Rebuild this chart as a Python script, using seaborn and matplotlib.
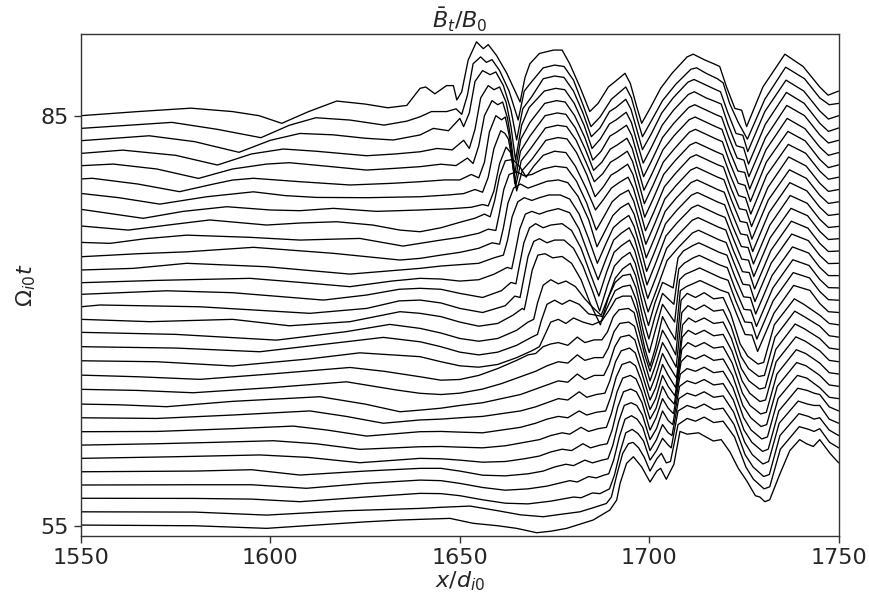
import numpy as np
import pandas as pd
import matplotlib
matplotlib.use("Agg")
import matplotlib.pyplot as plt
import seaborn as sns

# Stacked field profiles: each row is (x / d_i0, offset above the row's time level)
b85 = [(1550, 0.0), (1565, 0.3), (1579, 0.55), (1590, 0.3), (1597, 0.0), (1603, -0.56), (1610, 0.29),
       (1617.5, 1.07), (1625, 0.85), (1631, 0.58), (1636, 0.75), (1639.5, 2.0), (1641, 2.1), (1643.4, 1.6),
       (1646.5, 2.2), (1648.3, 2.2), (1649.2, 1.15), (1650.5, 1.75), (1652.2, 4.07), (1654.4, 5.4),
       (1656.2, 4.9), (1657.5, 5.2), (1659.7, 4.4), (1662.4, 3.1), (1665.9, 1.0), (1667.2, 2.8), (1668.5, 3.8),
       (1671, 4.55), (1674.7, 4.8), (1677, 4.8), (1679, 3.8), (1681.7, 2.1), (1684.3, 0.3), (1686.5, 0.9),
       (1689.2, 2.1), (1691, 2.5), (1693.6, 3.1), (1695, 2.36), (1696.7, 0.65), (1698, -0.56),
       (1700.2, 0.53), (1703, 2.0), (1706, 3.1), (1710, 4.3), (1711.6, 4.5), (1714.7, 4.07), (1717, 3.8),
       (1718.6, 3.6), (1720.4, 2.1), (1722.6, 0.53), (1724.4, 0.4), (1725.7, -0.8), (1730, 2.1),
       (1735.8, 4.5), (1740.6, 3.6), (1745, 2.1), (1747.2, 1.5), (1750, 1.8)]
b84 = [(1550, 0.07), (1574, 0.51), (1586, 0.0), (1597.5, -0.61), (1605, 0.3), (1612, 0.85), (1621, 0.68),
       (1630, 0.31), (1636, 0.6), (1639.5, 0.92), (1642.5, 1.3), (1646.5, 1.3), (1649, 1.5), (1650.5, 1.1),
       (1652, 2.5), (1653.5, 4.8), (1655.5, 5.3), (1657, 4.9), (1658.5, 5.1), (1660.5, 4.3), (1663, 2.8),
       (1665.4, 0.68), (1667, 2.8), (1669, 3.5), (1672, 4.5), (1675, 4.7), (1677.5, 4.6), (1680, 3.6), (1682.5, 1.8),
       (1684.6, 0.2), (1687, 0.9), (1690, 2.2), (1693.8, 3.1), (1695.3, 2.3), (1697, 0.6), (1698.2, -0.54),
       (1700.5, 0.6), (1703.5, 2.1), (1707, 3.3), (1711, 4.4), (1712.5, 4.5), (1715, 4.1), (1718, 3.7),
       (1719.5, 3.4), (1721.2, 1.9), (1723.5, 0.5), (1725.9, -0.72), (1730.5, 2.2), (1736, 4.55),
       (1741, 3.7), (1745, 2.3), (1747.5, 1.8), (1750, 1.9)]
b83 = [(1550, 0.17), (1568, 0.53), (1580, 0.1), (1591.7, -0.68), (1600, 0.2), (1607.8, 0.7), (1616.5, 0.6),
       (1625, 0.35), (1632.4, 0.22), (1639.5, 0.59), (1643, 1.07), (1647, 0.9), (1650, 1.8), (1651, 1.2),
       (1652.5, 2.2), (1654, 4.5), (1656, 5.3), (1658, 5.0), (1659.5, 5.2), (1661.5, 4.2), (1663.5, 2.4),
       (1665.0, 0.22), (1666.6, 2.5), (1669, 3.4), (1672, 4.7), (1675, 4.9), (1677.5, 4.8), (1680, 3.8), (1682.5, 2.2),
       (1684.7, 0.46), (1687, 1.1), (1689.5, 2.3), (1691.2, 2.6), (1693.8, 3.2), (1695.2, 2.45), (1697, 0.7),
       (1698.2, -0.48), (1700.5, 0.65), (1703.3, 2.2), (1706.3, 3.3), (1710.2, 4.45), (1711.8, 4.65),
       (1714.9, 4.25), (1717.2, 3.95), (1718.8, 3.75), (1720.7, 2.25), (1722.9, 0.7), (1724.7, 0.57),
       (1726, -0.63), (1730.5, 2.3), (1736.1, 4.6), (1740.8, 3.8), (1745, 2.35), (1747.3, 1.75), (1750, 2.0)]
b82 = [(1550, 0.24), (1561, 0.48), (1575, 0.1), (1586, -0.61), (1595, 0.2), (1603.4, 0.56), (1612, 0.4),
       (1625.4, 0.07), (1633, 0.2), (1639.5, 0.36), (1644, 0.6), (1648, 0.5), (1651, 1.2), (1652.5, 0.6),
       (1654, 2.0), (1655.5, 4.3), (1657.5, 5.2), (1659, 4.9), (1660.5, 5.1), (1662.2, 4.0), (1663.5, 2.2),
       (1664.7, -0.25), (1666.3, 2.3), (1668.3, 3.6), (1672.3, 4.8), (1675.3, 5.0), (1677.7, 4.9), (1680.2, 3.9),
       (1682.8, 2.3), (1684.9, 0.6), (1687.1, 1.3), (1689.5, 2.4), (1691.3, 2.7), (1693.9, 3.25),
       (1695.3, 2.5), (1697.1, 0.75), (1698.4, -0.47), (1700.6, 0.7), (1703.4, 2.3), (1706.4, 3.4),
       (1710.3, 4.55), (1711.9, 4.75), (1715, 4.3), (1717.3, 4.05), (1719, 3.85), (1720.8, 2.35), (1723, 0.8),
       (1724.9, 0.65), (1726.2, -0.54), (1730.6, 2.35), (1736.2, 4.7), (1740.9, 3.9), (1745, 2.45),
       (1747.3, 1.85), (1750, 2.1)]
b81 = [(1550, 0.34), (1558.5, 0.46), (1570, 0.1), (1581, -0.59), (1590, 0.1), (1599, 0.46), (1605, 0.56),
       (1615, 0.3), (1625.4, 0.02), (1633, 0.15), (1639.5, 0.27), (1645, 0.45), (1649, 0.35), (1652, 0.9),
       (1653.5, 0.5), (1655, 1.8), (1656.5, 4.0), (1658.5, 5.1), (1660, 4.8), (1661.3, 5.0), (1662.6, 3.8),
       (1663.6, 2.0), (1664.5, -0.22), (1666.1, 2.3), (1668.5, 3.5), (1672.4, 4.9), (1675.5, 5.1), (1677.8, 5.0),
       (1680.3, 4.0), (1683, 2.4), (1685.1, 0.75), (1687.3, 1.4), (1689.6, 2.5), (1691.4, 2.8), (1694, 3.3),
       (1695.4, 2.55), (1697.2, 0.8), (1698.5, -0.46), (1700.7, 0.75), (1703.5, 2.4), (1706.5, 3.45),
       (1710.4, 4.6), (1712, 4.8), (1715.1, 4.4), (1717.4, 4.1), (1719.1, 3.9), (1721, 2.4), (1723.2, 0.9),
       (1725, 0.75), (1726.3, -0.46), (1730.7, 2.4), (1736.3, 4.75), (1741, 4.0), (1745, 2.6), (1747.3, 2.0),
       (1750, 2.2)]
b80 = [(1550, 0.37), (1553, 0.42), (1565, 0.0), (1576, -0.56), (1585, 0.0), (1590, 0.29), (1595.5, 0.42),
       (1607.8, 0.17), (1621, -0.07), (1632, 0.05), (1639.5, 0.17), (1646, 0.3), (1650, 0.3), (1653, 0.7),
       (1655, 0.45), (1656.5, 1.6), (1657.8, 3.8), (1659.5, 5.0), (1661, 4.7), (1662.0, 4.9), (1663.0, 3.6),
       (1663.8, 2.0), (1664.5, 0.05), (1666.0, 2.4), (1668.5, 3.5), (1672.5, 5.0), (1675.7, 5.2), (1678, 5.1),
       (1680.5, 4.1), (1683.2, 2.5), (1685.3, 1.0), (1687.5, 1.6), (1689.7, 2.55), (1691.5, 2.85),
       (1694.1, 3.35), (1695.5, 2.6), (1697.3, 0.85), (1698.6, -0.45), (1700.8, 0.8), (1703.6, 2.5),
       (1706.6, 3.55), (1710.5, 4.7), (1712.1, 4.9), (1715.2, 4.5), (1717.5, 4.2), (1719.2, 4.0), (1721.1, 2.5),
       (1723.4, 0.95), (1725.2, 0.85), (1726.5, -0.37), (1730.8, 2.5), (1736.4, 4.8), (1741.1, 4.05),
       (1745, 2.7), (1747.3, 2.1), (1750, 2.3)]
b79 = [(1550, 0.31), (1560, 0.0), (1570.8, -0.47), (1583.2, 0.07), (1595.5, 0.43), (1604, 0.15),
       (1612.2, 0.02), (1625.4, 0.0), (1639.5, 0.07), (1647, 0.2), (1651, 0.3), (1654, 0.6), (1656, 0.4),
       (1657.5, 1.5), (1659, 3.6), (1660.8, 4.9), (1661.9, 4.7), (1662.8, 4.3), (1663.8, 2.8), (1664.7, 0.8),
       (1666.2, 2.7), (1668.7, 3.6), (1672.6, 5.1), (1675.8, 5.3), (1678.2, 5.2), (1680.7, 4.2), (1683.3, 2.6),
       (1685.5, 1.17), (1687.7, 1.75), (1689.8, 2.6), (1691.6, 2.9), (1694.2, 3.4), (1695.6, 2.65),
       (1697.4, 0.9), (1698.7, -0.44), (1700.9, 0.85), (1703.7, 2.6), (1706.7, 3.6), (1710.6, 4.8),
       (1712.2, 5.0), (1715.3, 4.6), (1717.6, 4.3), (1719.3, 4.1), (1721.2, 2.6), (1723.5, 1.05),
       (1725.3, 0.9), (1726.7, -0.28), (1730.9, 2.6), (1736.6, 4.85), (1741.2, 4.15), (1745, 2.8),
       (1747.3, 2.2), (1750, 2.4)]
b78 = [(1550, 0.15), (1566.4, -0.51), (1577, 0.0), (1588.5, 0.34), (1600, 0.1), (1607.8, 0.05),
       (1616.6, 0.22), (1628, 0.0), (1639.5, 0.1), (1648, 0.2), (1653, 0.3), (1656, 0.5), (1657.5, 0.4),
       (1659, 1.5), (1660.5, 3.5), (1662.2, 4.7), (1663.4, 4.3), (1664.2, 3.0), (1665.0, 1.5), (1666.5, 3.0),
       (1669, 3.8), (1672.7, 5.2), (1675.9, 5.4), (1678.3, 5.3), (1680.8, 4.3), (1683.5, 2.7), (1685.7, 1.07),
       (1687.9, 1.8), (1689.9, 2.65), (1691.7, 2.95), (1694.3, 3.45), (1695.7, 2.7), (1697.5, 0.95),
       (1698.8, -0.43), (1701, 0.9), (1703.8, 2.7), (1706.8, 3.7), (1710.7, 4.85), (1712.3, 5.05),
       (1715.4, 4.65), (1717.7, 4.35), (1719.4, 4.15), (1721.3, 2.7), (1723.6, 1.15), (1725.4, 1.0),
       (1726.8, -0.2), (1731, 2.65), (1736.7, 4.9), (1741.3, 4.25), (1745, 2.95), (1747.3, 2.35), (1750, 2.5)]
b77 = [(1550, -0.07), (1562.5, -0.37), (1573, 0.0), (1584, 0.37), (1599, 0.0), (1608, 0.15), (1617.5, 0.24),
       (1627, 0.0), (1634.2, -0.37), (1639.5, -0.49), (1645, -0.2), (1650, 0.2), (1654, 0.5), (1656.5, 0.8),
       (1658, 0.6), (1659.2, 1.8), (1660.5, 3.6), (1662, 4.7), (1664, 4.8), (1666, 4.2), (1667.5, 3.5),
       (1669.5, 4.3), (1672, 5.1), (1675, 5.4), (1678, 5.3), (1680.5, 4.3), (1683.3, 2.7), (1685.8, 1.1),
       (1688, 1.9), (1690, 2.7), (1692, 3.1), (1694.4, 3.5), (1695.8, 2.7), (1697.7, 0.9), (1699, -0.42),
       (1701.2, 0.95), (1704, 2.8), (1707, 3.8), (1710.8, 4.94), (1712.4, 5.14), (1715.5, 4.74),
       (1717.8, 4.44), (1719.6, 4.24), (1721.5, 2.74), (1723.8, 1.19), (1725.6, 1.09), (1727, -0.11),
       (1731.3, 2.74), (1736.8, 4.98), (1741.4, 4.32), (1745, 3.06), (1747.3, 2.46), (1750, 2.6)]
b76 = [(1550, -0.27), (1557.7, -0.34), (1567, 0.0), (1577.9, 0.26), (1594.6, 0.1), (1607.8, -0.1),
       (1623.6, 0.02), (1635, -0.54), (1639.5, -0.34), (1645, -0.1), (1650, 0.1), (1655, 0.4), (1657.5, 0.7),
       (1659.5, 0.6), (1660.4, 1.8), (1661.6, 3.6), (1663, 4.7), (1665, 4.9), (1667, 4.6), (1669, 4.7),
       (1672, 5.1), (1675.2, 5.3), (1678.2, 5.2), (1680.8, 4.2), (1683.5, 2.6), (1686, 0.63), (1688.2, 1.7),
       (1690.2, 2.7), (1692.2, 3.2), (1694.5, 3.55), (1695.9, 2.75), (1697.8, 0.9), (1699.1, -0.41),
       (1701.3, 1.0), (1704.1, 2.9), (1707.1, 3.9), (1710.9, 5.02), (1712.5, 5.22), (1715.6, 4.82),
       (1717.9, 4.52), (1719.7, 4.32), (1721.7, 2.82), (1724, 1.27), (1725.8, 1.17), (1727.1, -0.03),
       (1731.4, 2.82), (1737, 5.04), (1741.5, 4.41), (1745, 3.18), (1747.3, 2.58), (1750, 2.7)]
b75 = [(1550, -0.32), (1565, -0.1), (1577.9, 0.04), (1595.5, 0.37), (1616.6, -0.07), (1634.2, -0.56),
       (1639.5, -0.44), (1645, -0.2), (1650, 0.0), (1655, 0.3), (1658.5, 0.7), (1660.5, 0.6), (1661.5, 1.8),
       (1662.7, 3.6), (1664.2, 4.7), (1666, 5.0), (1668, 4.7), (1670, 4.9), (1673, 5.2), (1676, 5.3),
       (1678.5, 5.1), (1681.2, 4.1), (1684, 2.4), (1686.2, 0.41), (1688.4, 1.6), (1690.4, 2.7),
       (1692.4, 3.25), (1694.5, 3.6), (1696, 2.8), (1697.9, 0.95), (1699.2, -0.4), (1701.4, 1.05),
       (1704.2, 3.0), (1707.2, 4.0), (1711, 5.1), (1712.6, 5.3), (1715.7, 4.9), (1718, 4.6), (1719.8, 4.4),
       (1721.8, 2.9), (1724.1, 1.35), (1725.9, 1.26), (1727.3, 0.06), (1731.6, 2.9), (1737.1, 5.1),
       (1741.6, 4.5), (1745, 3.3), (1747.3, 2.7), (1750, 2.8)]
b74 = [(1550, -0.29), (1563.8, -0.17), (1577.9, 0.2), (1599, -0.05), (1621, -0.59), (1634.2, -0.29),
       (1639.5, -0.17), (1645, 0.0), (1650, 0.1), (1655, 0.2), (1659, 0.6), (1661.5, 0.8), (1662.6, 1.9),
       (1663.8, 3.6), (1665.3, 4.7), (1667, 5.0), (1669, 4.8), (1671, 5.0), (1673.5, 5.2), (1676.5, 5.2),
       (1679, 4.9), (1681.5, 3.8), (1684, 2.0), (1686.3, 0.2), (1688.5, 1.6), (1690.5, 2.8), (1692.5, 3.3),
       (1694.6, 3.7), (1696, 2.9), (1698, 1.0), (1699.3, -0.39), (1701.5, 1.1), (1704.3, 3.1), (1707.3, 4.09),
       (1711.1, 5.18), (1712.7, 5.38), (1715.8, 4.98), (1718.1, 4.68), (1719.9, 4.48), (1721.9, 2.98),
       (1724.3, 1.43), (1726.1, 1.35), (1727.5, 0.15), (1731.8, 2.98), (1737.2, 5.16), (1741.7, 4.59),
       (1745, 3.42), (1747.3, 2.82), (1750, 2.9)]
b73 = [(1550, -0.22), (1570, -0.05), (1594.6, 0.1), (1608, -0.2), (1621, -0.51), (1632, -0.1),
       (1639.5, 0.1), (1645, 0.05), (1650, -0.1), (1655, 0.0), (1659, 0.4), (1662.5, 0.9), (1663.7, 0.8),
       (1664.6, 2.0), (1665.8, 3.7), (1667.3, 4.8), (1669, 5.0), (1671, 4.8), (1673, 5.0), (1676, 5.2),
       (1679, 4.9), (1681.5, 3.7), (1684, 1.8), (1686.5, 0.0), (1688.7, 1.6), (1690.6, 2.9), (1692.6, 3.4),
       (1694.7, 3.8), (1696.1, 3.0), (1698.1, 1.0), (1699.4, -0.38), (1701.6, 1.15), (1704.4, 3.2),
       (1707.4, 4.18), (1711.2, 5.26), (1712.8, 5.46), (1715.9, 5.06), (1718.2, 4.76), (1720, 4.56),
       (1722.1, 3.06), (1724.4, 1.51), (1726.2, 1.43), (1727.6, 0.23), (1731.9, 3.06), (1737.4, 5.22),
       (1741.8, 4.68), (1745, 3.54), (1747.3, 2.94), (1750, 3.0)]
b72 = [(1550, -0.07), (1572.6, 0.19), (1590, 0.05), (1614, -0.49), (1625.4, -0.12), (1634, 0.3),
       (1639.5, 0.37), (1645, 0.3), (1650, 0.0), (1656, -0.3), (1661, 0.2), (1663.5, 0.8), (1664.8, 0.7),
       (1665.7, 2.0), (1666.9, 3.7), (1668.4, 4.8), (1670, 5.1), (1672, 4.8), (1674, 5.0), (1677, 5.1),
       (1679.5, 4.6), (1682, 3.3), (1684.5, 1.4), (1686.7, -0.2), (1688.8, 1.6), (1690.7, 3.0), (1692.7, 3.5),
       (1694.8, 3.9), (1696.2, 3.1), (1698.2, 1.0), (1699.6, -0.37), (1701.8, 1.2), (1704.6, 3.3),
       (1707.6, 4.27), (1711.3, 5.34), (1712.9, 5.54), (1716, 5.14), (1718.3, 4.84), (1720.2, 4.64),
       (1722.2, 3.14), (1724.6, 1.59), (1726.4, 1.52), (1727.8, 0.32), (1732.1, 3.14), (1737.5, 5.28),
       (1741.9, 4.77), (1745, 3.66), (1747.3, 3.06), (1750, 3.1)]
b71 = [(1550, 0.02), (1555, 0.15), (1581.4, 0.02), (1610.4, -0.46), (1625.4, -0.1), (1634, 0.45),
       (1639.5, 0.51), (1645, 0.3), (1650, -0.1), (1656, -0.4), (1662, 0.1), (1664.5, 0.8), (1665.9, 0.7),
       (1666.8, 2.0), (1668, 3.7), (1669.5, 4.8), (1671, 5.0), (1673, 4.7), (1675, 4.9), (1677.5, 4.9),
       (1680, 4.3), (1682.5, 3.0), (1685, 1.2), (1686.9, -0.3), (1689, 1.6), (1690.8, 3.0), (1692.8, 3.6),
       (1694.9, 4.0), (1696.3, 3.2), (1698.3, 1.0), (1699.7, -0.36), (1701.9, 1.25), (1704.7, 3.4),
       (1707.7, 4.36), (1711.4, 5.42), (1713, 5.62), (1716.1, 5.22), (1718.4, 4.92), (1720.3, 4.72),
       (1722.4, 3.22), (1724.7, 1.67), (1726.5, 1.6), (1727.9, 0.4), (1732.2, 3.22), (1737.6, 5.34),
       (1742, 4.86), (1745, 3.78), (1747.3, 3.18), (1750, 3.2)]
b70 = [(1550, 0.1), (1568.2, -0.07), (1590, 0.1), (1605, -0.37), (1621, -0.07), (1634.2, 0.66),
       (1639.5, 0.54), (1645, 0.3), (1650, -0.1), (1655, -0.4), (1660, -0.2), (1664, 0.4), (1666.5, 0.9),
       (1667, 0.8), (1667.9, 2.0), (1669.1, 3.7), (1670.6, 4.8), (1672.5, 4.9), (1674.5, 4.6), (1677, 4.7),
       (1679.5, 4.2), (1682, 3.0), (1684.5, 1.2), (1687.1, -0.3), (1689.2, 1.7), (1691, 3.1), (1693, 3.8),
       (1695, 4.2), (1696.4, 3.3), (1698.4, 1.0), (1699.8, -0.35), (1701.5, 1.3), (1703.5, 2.8), (1705, 2.6),
       (1706.3, 2.4), (1707.6, 4.6), (1709, 5.1), (1711.5, 5.5), (1713.1, 5.7), (1716.2, 5.3), (1718.5, 5.0),
       (1720.5, 4.8), (1722.5, 3.3), (1724.9, 1.75), (1726.7, 1.69), (1728.1, 0.49), (1732.4, 3.3),
       (1737.8, 5.4), (1742.1, 4.95), (1745, 3.9), (1747.3, 3.3), (1750, 3.3)]
b69 = [(1550, 0.15), (1575, 0.0), (1601.6, -0.42), (1620, 0.2), (1631.5, 0.73), (1639.5, 0.44), (1645, 0.1),
       (1650, -0.3), (1655, -0.5), (1660, -0.3), (1665, 0.3), (1668, 0.9), (1669.5, 1.1), (1670.5, 2.3),
       (1672, 3.6), (1674, 4.0), (1676, 3.7), (1678, 3.9), (1680.5, 3.5), (1683, 2.6), (1685, 2.0),
       (1687.3, 1.4), (1689, 2.6), (1691, 3.8), (1693, 4.3), (1695, 4.4), (1696.5, 3.4), (1698.5, 1.0),
       (1699.9, -0.34), (1701.5, 1.3), (1703.5, 3.0), (1705, 2.6), (1706.5, 2.2), (1707.8, 4.8), (1709.2, 5.2),
       (1711.6, 5.6), (1713.2, 5.78), (1716.3, 5.38), (1718.6, 5.08), (1720.6, 4.88), (1722.6, 3.38),
       (1725, 1.83), (1726.8, 1.78), (1728.3, 0.58), (1732.6, 3.38), (1737.9, 5.46), (1742.2, 5.04),
       (1745, 4.02), (1747.3, 3.42), (1750, 3.4)]
b68 = [(1550, 0.1), (1575, 0.0), (1597.2, -0.27), (1615, 0.3), (1629.8, 0.78), (1639.5, 0.46), (1645, 0.1),
       (1650, -0.3), (1655, -0.5), (1660, -0.3), (1665, 0.2), (1669, 0.8), (1670.5, 1.0), (1671.5, 2.0),
       (1673, 3.2), (1675, 3.5), (1677, 3.2), (1679, 3.5), (1681.5, 3.2), (1684, 2.5), (1686, 2.4),
       (1687.8, 2.3), (1689.3, 3.2), (1691, 4.2), (1693, 4.5), (1695, 4.6), (1696.6, 3.5), (1698.6, 1.0),
       (1700, -0.33), (1701.5, 1.2), (1703.5, 3.2), (1705, 2.6), (1706.7, 1.9), (1708, 5.0), (1709.5, 5.4),
       (1711.7, 5.66), (1713.3, 5.86), (1716.4, 5.46), (1718.7, 5.16), (1720.8, 4.96), (1722.8, 3.46),
       (1725.2, 1.91), (1727, 1.86), (1728.4, 0.66), (1732.7, 3.46), (1738, 5.52), (1742.3, 5.13),
       (1745, 4.14), (1747.3, 3.54), (1750, 3.5)]
b67 = [(1550, 0.07), (1570, 0.0), (1590, -0.31), (1610, 0.2), (1623.6, 0.65), (1639.5, 0.37), (1645, 0.0),
       (1650, -0.3), (1655, -0.4), (1660, -0.2), (1665, 0.3), (1669, 0.8), (1671, 1.1), (1672.5, 2.0),
       (1674, 2.9), (1676, 3.1), (1678, 2.8), (1680, 3.2), (1682.5, 2.9), (1685, 2.7), (1687.5, 3.0),
       (1689.5, 3.8), (1691.2, 4.6), (1693, 4.8), (1695.2, 4.8), (1696.8, 3.6), (1698.8, 1.0), (1700.2, -0.32),
       (1701.6, 1.0), (1703.5, 3.3), (1705, 2.5), (1706.9, 1.6), (1708.2, 5.2), (1709.8, 5.5), (1711.8, 5.74),
       (1713.4, 5.94), (1716.5, 5.54), (1718.8, 5.24), (1720.9, 5.04), (1723, 3.54), (1725.3, 1.99),
       (1727.1, 1.95), (1728.6, 0.75), (1732.9, 3.54), (1738.1, 5.58), (1742.4, 5.22), (1745, 4.26),
       (1747.3, 3.66), (1750, 3.6)]
b66 = [(1550, 0.02), (1565, -0.1), (1581.4, -0.29), (1600, 0.1), (1621, 0.58), (1630, 0.3), (1639.5, -0.1),
       (1645, -0.35), (1650, -0.3), (1655, 0.0), (1660, 0.5), (1665, 1.1), (1668, 1.5), (1670, 1.6),
       (1672, 2.1), (1674, 2.3), (1676, 2.4), (1678.5, 2.2), (1681, 2.8), (1683, 2.4), (1685.5, 2.6),
       (1687.5, 2.6), (1689, 3.2), (1690.5, 4.3), (1692, 4.8), (1694.5, 4.9), (1696, 4.6), (1697.5, 3.0),
       (1698.8, 1.5), (1700.2, 0.3), (1701.6, 1.5), (1703.5, 3.3), (1705, 2.6), (1707, 1.5), (1708.4, 5.5),
       (1710, 6.0), (1712.2, 5.7), (1714.5, 6.05), (1717, 5.6), (1719.5, 5.7), (1721.5, 4.5), (1724, 2.3),
       (1726, 1.4), (1728.7, 0.83), (1730.2, 0.95), (1733, 3.7), (1738.3, 5.6), (1740.8, 5.2), (1745, 4.4),
       (1747.5, 3.8), (1750, 3.7)]
b65 = [(1550, -0.02), (1565, -0.1), (1579.6, -0.27), (1600, 0.1), (1620.1, 0.53), (1633.3, -0.07),
       (1639.5, -0.31), (1645, -0.4), (1650, -0.3), (1656, 0.0), (1661, 0.4), (1666, 0.9), (1670, 1.3),
       (1673, 1.7), (1676, 2.0), (1678.5, 1.9), (1681, 2.5), (1683, 2.1), (1685.5, 2.3), (1687.8, 2.3),
       (1689.2, 3.0), (1690.7, 4.2), (1692.2, 4.8), (1694.6, 4.9), (1696.1, 4.6), (1697.6, 3.1), (1700.2, 0.6),
       (1701.6, 1.7), (1703.5, 3.4), (1705, 2.7), (1707.1, 1.6), (1708.6, 5.6), (1710.2, 6.1), (1712.2, 5.8),
       (1714.5, 6.15), (1717, 5.7), (1719.5, 5.8), (1721.6, 4.6), (1724.2, 2.4), (1726.2, 1.5), (1728.9, 0.92),
       (1730.4, 1.0), (1733.2, 3.8), (1738.4, 5.7), (1740.9, 5.3), (1745, 4.6), (1747.5, 3.9), (1750, 3.8)]
b64 = [(1550, -0.1), (1560, -0.15), (1572.6, -0.29), (1590, 0.1), (1613.1, 0.44), (1625, -0.1),
       (1634.2, -0.66), (1639.5, -0.54), (1645, -0.4), (1650, -0.2), (1656, 0.0), (1661, 0.3), (1666, 0.6),
       (1670, 1.0), (1673, 1.3), (1676, 1.6), (1678.5, 1.5), (1681, 2.1), (1683, 1.7), (1685.5, 2.0),
       (1688, 2.0), (1689.4, 2.8), (1690.9, 4.1), (1692.4, 4.8), (1694.7, 4.95), (1696.2, 4.6), (1697.7, 3.2),
       (1700.2, 0.9), (1701.6, 1.9), (1703.5, 3.6), (1705, 2.8), (1707.2, 1.8), (1708.8, 5.7), (1710.4, 6.2),
       (1712.2, 5.9), (1714.5, 6.2), (1717, 5.8), (1719.5, 5.9), (1721.7, 4.7), (1724.3, 2.5), (1726.3, 1.6),
       (1729.1, 1.0), (1730.6, 1.1), (1733.4, 3.9), (1738.5, 5.76), (1741, 5.4), (1745, 4.7), (1747.5, 4.0),
       (1750, 3.9)]
b63 = [(1550, -0.1), (1570, -0.15), (1590, 0.1), (1610.4, 0.4), (1620, 0.0), (1629.8, -0.5), (1639.5, -0.26),
       (1645, -0.2), (1650, -0.1), (1656, 0.0), (1661, 0.2), (1666, 0.4), (1670, 0.7), (1673, 1.0),
       (1676, 1.3), (1678.5, 1.2), (1681.5, 1.8), (1683.5, 1.4), (1686, 1.6), (1688.3, 1.7), (1689.6, 2.6),
       (1691.1, 4.0), (1692.6, 4.8), (1694.8, 5.0), (1696.3, 4.65), (1697.8, 3.4), (1700.2, 1.2), (1701.7, 2.1),
       (1703.5, 3.8), (1705, 3.0), (1707, 2.1), (1708.7, 5.8), (1710.3, 6.3), (1712.2, 6.0), (1714.5, 6.3),
       (1717, 5.9), (1719.5, 6.0), (1721.8, 4.8), (1724.5, 2.6), (1726.5, 1.7), (1729.2, 1.09), (1730.7, 1.2),
       (1733.5, 4.0), (1738.7, 5.82), (1741.2, 5.5), (1745, 4.8), (1747.5, 4.1), (1750, 4.0)]
b62 = [(1550, -0.12), (1570, -0.1), (1590, 0.1), (1606, 0.29), (1615, 0.0), (1625.4, -0.44), (1639.5, -0.12),
       (1645, -0.1), (1650, -0.15), (1656, -0.2), (1661, 0.0), (1666, 0.2), (1670, 0.5), (1673, 0.8),
       (1676, 1.0), (1678.5, 0.9), (1681.5, 1.4), (1683.5, 1.1), (1686, 1.3), (1688.5, 1.4), (1689.8, 2.4),
       (1691.3, 3.9), (1692.8, 4.8), (1694.9, 5.0), (1696.4, 4.7), (1697.9, 3.6), (1700.2, 1.5), (1701.7, 2.3),
       (1703.5, 4.0), (1705, 3.2), (1706.8, 2.5), (1708.6, 5.9), (1710.2, 6.4), (1712.2, 6.1), (1714.5, 6.4),
       (1717, 6.0), (1719.5, 6.1), (1721.9, 4.9), (1724.6, 2.7), (1726.6, 1.8), (1729.4, 1.18), (1730.9, 1.3),
       (1733.7, 4.1), (1738.8, 5.88), (1741.3, 5.6), (1745, 4.9), (1747.5, 4.2), (1750, 4.1)]
b61 = [(1550, -0.1), (1570, 0.0), (1585, 0.1), (1600.8, 0.22), (1612, 0.0), (1623.6, -0.41), (1639.5, -0.22),
       (1645, -0.2), (1650, -0.25), (1656, -0.3), (1662, -0.15), (1667, 0.1), (1671, 0.3), (1674, 0.6),
       (1677, 0.8), (1679, 0.7), (1682, 1.2), (1684, 0.9), (1686.5, 1.1), (1688.7, 1.2), (1690, 2.2),
       (1691.5, 3.8), (1693, 4.8), (1695, 5.0), (1696.5, 4.75), (1698, 3.8), (1700.2, 1.8), (1701.8, 2.6),
       (1703.5, 4.2), (1705, 3.4), (1706.6, 2.9), (1708.4, 6.0), (1710, 6.45), (1712.2, 6.2), (1714.5, 6.5),
       (1717, 6.1), (1719.5, 6.2), (1722, 5.0), (1724.7, 2.8), (1726.8, 1.9), (1729.5, 1.26), (1731, 1.4),
       (1733.8, 4.2), (1738.9, 5.94), (1741.4, 5.7), (1745, 5.0), (1747.5, 4.3), (1750, 4.2)]
b60 = [(1550, -0.07), (1575, 0.05), (1597.2, 0.18), (1610, 0.0), (1623.6, -0.39), (1639.5, -0.07),
       (1645, -0.1), (1650, -0.2), (1656, -0.35), (1662, -0.3), (1667, -0.1), (1671, 0.1), (1674, 0.4),
       (1677, 0.6), (1679.5, 0.5), (1682.5, 1.0), (1684.5, 0.7), (1687, 0.9), (1688.9, 1.0), (1690.2, 2.0),
       (1691.7, 3.7), (1693.2, 4.8), (1695.1, 5.0), (1696.6, 4.8), (1698.1, 4.0), (1700.2, 2.0), (1701.8, 2.9),
       (1703.5, 4.3), (1705, 3.6), (1706.4, 3.2), (1708.2, 6.1), (1710, 6.5), (1712.2, 6.3), (1714.5, 6.6),
       (1717, 6.2), (1719.5, 6.3), (1722.1, 5.1), (1724.9, 2.9), (1726.9, 2.0), (1729.7, 1.35), (1731.2, 1.5),
       (1734, 4.3), (1739.1, 6.0), (1741.6, 5.8), (1745, 5.1), (1747.5, 4.4), (1750, 4.3)]
b59 = [(1550, -0.05), (1580, 0.0), (1595, 0.1), (1607.8, -0.29), (1625, 0.0), (1639.5, 0.2), (1645, 0.2),
       (1650, 0.0), (1656, -0.3), (1662, -0.35), (1668, -0.2), (1672, 0.0), (1675, 0.3), (1678, 0.5),
       (1680, 0.4), (1683, 0.8), (1685, 0.6), (1687.5, 0.8), (1689.1, 0.9), (1690.4, 1.9), (1691.9, 3.6),
       (1693.4, 4.8), (1695.2, 5.0), (1696.7, 4.8), (1698.2, 4.1), (1700.2, 2.3), (1701.9, 3.1), (1703.5, 4.4),
       (1705, 3.7), (1706.2, 3.4), (1708, 6.2), (1710, 6.6), (1712.2, 6.4), (1714.5, 6.7), (1717, 6.3),
       (1719.5, 6.4), (1722.2, 5.2), (1725, 3.0), (1727.1, 2.1), (1729.9, 1.44), (1731.4, 1.6), (1734.2, 4.4),
       (1739.2, 6.06), (1741.7, 5.9), (1743.5, 5.7), (1745, 5.6), (1747.5, 4.7), (1750, 4.4)]
b58 = [(1550, -0.02), (1580, 0.0), (1595, 0.0), (1609.5, -0.26), (1625, 0.1), (1639.5, 0.34), (1645, 0.3),
       (1650, 0.1), (1656, -0.2), (1662, -0.4), (1668, -0.3), (1673, -0.1), (1676, 0.1), (1679, 0.3),
       (1681, 0.2), (1684, 0.6), (1686, 0.5), (1688, 0.7), (1689.3, 0.8), (1690.6, 1.8), (1692.1, 3.5),
       (1693.6, 4.8), (1695.3, 5.05), (1696.8, 4.8), (1698.3, 4.2), (1700.2, 2.5), (1701.9, 3.3), (1703.5, 4.4),
       (1705, 3.8), (1706, 3.6), (1707.8, 6.3), (1710, 6.7), (1712.2, 6.5), (1714.5, 6.8), (1717, 6.4),
       (1719.5, 6.5), (1722.3, 5.3), (1725.2, 3.1), (1727.2, 2.2), (1730, 1.52), (1731.5, 1.7), (1734.3, 4.5),
       (1739.3, 6.12), (1741.8, 5.9), (1743.5, 5.8), (1745, 5.8), (1747.5, 4.8), (1750, 4.5)]
b57 = [(1550, 0.01), (1580, 0.0), (1595, -0.05), (1607.8, -0.24), (1625, 0.1), (1639.5, 0.37), (1645, 0.35),
       (1650, 0.2), (1656, -0.1), (1662, -0.35), (1668, -0.4), (1674, -0.2), (1677, -0.05), (1680, 0.1),
       (1682, 0.05), (1685, 0.4), (1687, 0.35), (1689.5, 0.7), (1690.8, 1.7), (1692.3, 3.4), (1693.8, 4.8),
       (1695.5, 5.05), (1697, 4.75), (1698.5, 4.2), (1700.2, 2.8), (1701.9, 3.5), (1703.5, 4.4), (1705, 3.9),
       (1705.8, 3.7), (1707.6, 6.4), (1710, 6.8), (1712.2, 6.6), (1714.5, 6.9), (1717, 6.5), (1719.5, 6.6),
       (1722.4, 5.4), (1725.3, 3.2), (1727.4, 2.3), (1730.2, 1.6), (1731.7, 1.75), (1734.5, 4.6), (1739.5, 6.2),
       (1742, 6.0), (1743.5, 5.8), (1745, 5.9), (1747.5, 5.0), (1750, 4.6)]
b56 = [(1550, 0.02), (1580, 0.0), (1599, -0.22), (1620, 0.1), (1639.5, 0.27), (1645, 0.35), (1652.7, 0.44),
       (1660, 0.1), (1666, -0.2), (1672, -0.34), (1677, -0.15), (1681.7, 0.02), (1685, 0.3), (1688.7, 0.63),
       (1690, 1.1), (1691.5, 2.8), (1693, 4.3), (1694.5, 5.0), (1695.7, 5.1), (1697.2, 4.7), (1698.7, 4.0),
       (1700.2, 3.0), (1702, 3.9), (1703.2, 4.3), (1704.5, 3.6), (1705.6, 3.7), (1707.6, 6.4), (1710, 6.85),
       (1712.2, 6.65), (1714.5, 6.95), (1717, 6.55), (1719.5, 6.65), (1722.5, 5.5), (1725.5, 3.3),
       (1727.5, 2.4), (1730.3, 1.7), (1731.8, 1.85), (1734.6, 4.6), (1739.6, 6.25), (1742.1, 6.05),
       (1743.5, 5.9), (1745, 6.1), (1747.6, 5.1), (1750, 4.7)]
b55 = [(1550, 0.05), (1580, 0.0), (1599, -0.19), (1612, 0.05), (1625.4, 0.29), (1634.2, 0.42), (1647.4, 0.54),
       (1653.5, 0.18), (1660, 0.0), (1665, -0.19), (1670.3, -0.51), (1674, -0.4), (1678.2, -0.19),
       (1685.2, 0.42), (1689.6, 1.15), (1691.4, 1.88), (1692.3, 3.1), (1694, 4.56), (1695.8, 5.05), (1698, 4.3),
       (1700.2, 3.2), (1702, 4.0), (1703, 4.2), (1704.5, 3.4), (1706.5, 4.5), (1708.1, 6.9), (1710, 6.7),
       (1713, 6.8), (1716.9, 6.2), (1719, 6.3), (1721.3, 5.4), (1723.5, 4.2), (1725.7, 3.3), (1728, 2.2),
       (1729.2, 2.1), (1730.5, 1.76), (1731.8, 1.9), (1734.5, 3.8), (1737.1, 5.5), (1739.7, 6.3),
       (1741.5, 6.0), (1743.3, 5.8), (1745, 6.3), (1747.7, 5.3), (1750, 4.6)]

profiles = {
    55: b55, 56: b56, 57: b57, 58: b58, 59: b59, 60: b60, 61: b61, 62: b62, 63: b63, 64: b64,
    65: b65, 66: b66, 67: b67, 68: b68, 69: b69, 70: b70, 71: b71, 72: b72, 73: b73, 74: b74,
    75: b75, 76: b76, 77: b77, 78: b78, 79: b79, 80: b80, 81: b81, 82: b82, 83: b83, 84: b84, 85: b85,
}

x_ticks = [1550, 1600, 1650, 1700, 1750]
y_ticks = [55, 85]

rows = []
for t, prof in profiles.items():
    for x, dy in prof:
        rows.append({"t": t, "x": x, "y": t + dy})
df = pd.DataFrame(rows)

sns.set_style("ticks")
plt.rcParams["font.family"] = ["DejaVu Sans"]
plt.rcParams["mathtext.fontset"] = "dejavusans"

fig = plt.figure(figsize=(8.7, 6.06), dpi=100)
ax = fig.add_axes([0.0931, 0.1155, 0.8709, 0.8285])

sns.lineplot(data=df, x="x", y="y", units="t", estimator=None, sort=False,
             color="black", linewidth=0.95, legend=False, ax=ax)
for ln in ax.get_lines():
    ln.set_solid_joinstyle("round")

ax.set_xlim(1550, 1750)
ax.set_ylim(54.25, 90.98)
ax.set_xticks(x_ticks)
ax.set_yticks(y_ticks)
ax.tick_params(axis="both", labelsize=16, length=5, width=1, color="#333333", direction="out")
ax.set_xlabel(r"$x/d_{i0}$", fontsize=16, labelpad=1)
ax.set_ylabel(r"$\Omega_{i0}t$", fontsize=16, labelpad=2)
ax.set_title(r"$\bar{B}_t/B_0$", fontsize=16, pad=3)
for s in ax.spines.values():
    s.set_linewidth(1.0)
    s.set_color("#333333")

fig.savefig("out.png", dpi=100)
